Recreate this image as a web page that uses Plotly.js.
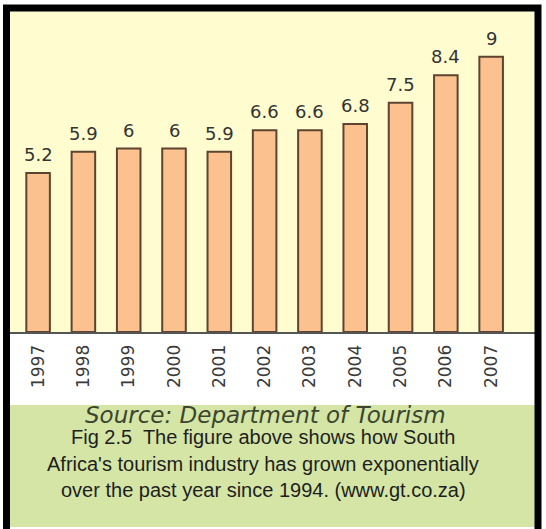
<!DOCTYPE html>
<html><head><meta charset="utf-8">
<script src="https://cdn.plot.ly/plotly-3.0.1.min.js"></script>
<style>html,body{margin:0;padding:0;background:#fff;}#chart{width:546px;height:529px;}</style>
</head><body><div id="chart"></div>
<script>
var years = ['1997','1998','1999','2000','2001','2002','2003','2004','2005','2006','2007'];
var values = [5.2, 5.9, 6, 6, 5.9, 6.6, 6.6, 6.8, 7.5, 8.4, 9];
var valueLabels = ['5.2','5.9','6','6','5.9','6.6','6.6','6.8','7.5','8.4','9'];
var sourceText = 'Source: Department of Tourism';
var captionLines = [
  'Fig 2.5  The figure above shows how South',
  "Africa's tourism industry has grown exponentially",
  'over the past year since 1994. (www.gt.co.za)'
];

var W = 546, H = 529;
var L = 10, R = 536, T = 11, B = 332;
// paper coords are relative to the plot area
function py(p){ return (B - p) / (B - T); }
function px(p){ return (p - L) / (R - L); }

var trace = {
  type: 'bar', x: years, y: values,
  width: 0.52,
  marker: {color: '#FBC28F', line: {color: '#5E4430', width: 2}},
  hoverinfo: 'x+y'
};

var annotations = years.map(function(y, i){
  return {x: i, y: values[i], xref: 'x', yref: 'y', text: valueLabels[i],
    showarrow: false, yanchor: 'bottom', yshift: 6,
    font: {family: 'DejaVu Sans', size: 18, color: '#333333'}};
});
annotations.push({x: px(265), y: py(415), xref: 'paper', yref: 'paper', text: sourceText,
  showarrow: false, xanchor: 'center', yanchor: 'middle',
  font: {family: 'DejaVu Sans', size: 23, color: '#3B4530', style: 'italic'}});
var capY = [437, 464, 490];
captionLines.forEach(function(t, i){
  annotations.push({x: px(263), y: py(capY[i]), xref: 'paper', yref: 'paper', text: t,
    showarrow: false, xanchor: 'center', yanchor: 'middle',
    font: {family: 'Liberation Sans', size: 20, color: '#1E1E1E'}});
});

var layout = {
  width: W, height: H,
  margin: {l: L, r: W - R, t: T, b: H - B, pad: 0},
  paper_bgcolor: '#FFFFFF',
  plot_bgcolor: '#FFFDD0',
  showlegend: false,
  xaxis: {type: 'category', range: [-0.62, 10.99], showgrid: false, zeroline: false,
    showline: true, linecolor: '#555555', linewidth: 2,
    tickangle: -90, ticks: '', ticklabelstandoff: 4,
    tickfont: {family: 'DejaVu Sans', size: 17, color: '#3A3A3A'}},
  yaxis: {range: [0, 10.5], showgrid: false, zeroline: false, showticklabels: false, ticks: ''},
  shapes: [
    {type: 'rect', xref: 'paper', yref: 'paper', x0: px(10), x1: px(536), y0: py(527), y1: py(405),
      fillcolor: '#D4E5A6', line: {width: 0}, layer: 'below'},
    {type: 'rect', xref: 'paper', yref: 'paper', x0: px(6.5), x1: px(538), y0: py(545), y1: py(8),
      fillcolor: 'rgba(0,0,0,0)', line: {color: '#000000', width: 7}}
  ],
  annotations: annotations
};

Plotly.newPlot('chart', [trace], layout, {displayModeBar: false, staticPlot: true});
</script></body></html>
